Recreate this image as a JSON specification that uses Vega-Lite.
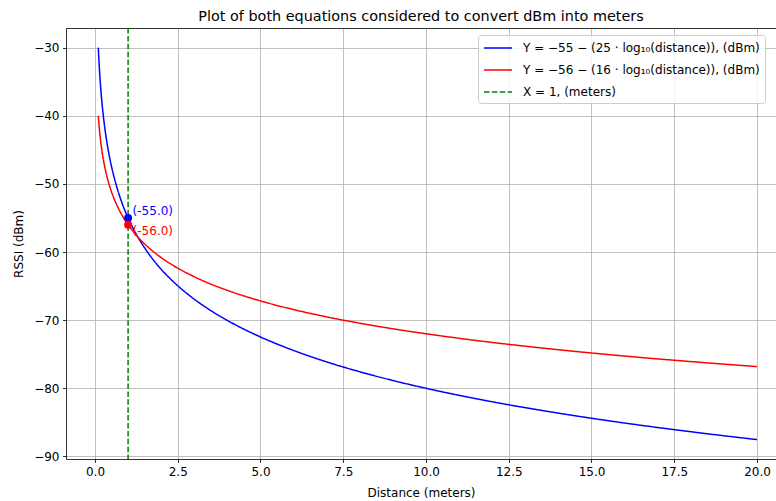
{
  "$schema": "https://vega.github.io/schema/vega-lite/v6.json",
  "width": 710,
  "height": 431,
  "autosize": "none",
  "padding": {"left": 66, "top": 28, "right": 0, "bottom": 42},
  "background": "white",
  "config": {
    "font": "DejaVu Sans",
    "view": {"stroke": null},
    "axis": {
      "labelFont": "DejaVu Sans", "labelFontSize": 12, "labelColor": "black",
      "titleFont": "DejaVu Sans", "titleFontSize": 12, "titleFontWeight": "normal", "titleColor": "black",
      "tickColor": "black", "tickSize": 3.5, "tickWidth": 0.8,
      "domainColor": "black", "domainWidth": 0.8,
      "gridColor": "#b0b0b0", "gridWidth": 0.8, "gridOpacity": 1,
      "labelPadding": 3.5
    },
    "legend": {
      "labelFont": "DejaVu Sans", "labelFontSize": 12, "labelColor": "black", "labelLimit": 400
    }
  },
  "title": {"text": "Plot of both equations considered to convert dBm into meters", "fontSize": 14.4, "font": "DejaVu Sans", "fontWeight": "normal", "color": "black", "offset": 3},
  "datasets": {
    "curves": [
      {"d": 0.1, "s": "eq1", "rssi": -30}, {"d": 0.11, "s": "eq1", "rssi": -31.03}, {"d": 0.12, "s": "eq1", "rssi": -31.98}, {"d": 0.13, "s": "eq1", "rssi": -32.85}, {"d": 0.14, "s": "eq1", "rssi": -33.65}, {"d": 0.15, "s": "eq1", "rssi": -34.40}, {"d": 0.17, "s": "eq1", "rssi": -35.76}, {"d": 0.2, "s": "eq1", "rssi": -37.53}, {"d": 0.25, "s": "eq1", "rssi": -39.95}, {"d": 0.3, "s": "eq1", "rssi": -41.93}, {"d": 0.35, "s": "eq1", "rssi": -43.60}, {"d": 0.4, "s": "eq1", "rssi": -45.05}, {"d": 0.45, "s": "eq1", "rssi": -46.33}, {"d": 0.5, "s": "eq1", "rssi": -47.47}, {"d": 0.6, "s": "eq1", "rssi": -49.45}, {"d": 0.7, "s": "eq1", "rssi": -51.13}, {"d": 0.8, "s": "eq1", "rssi": -52.58}, {"d": 0.9, "s": "eq1", "rssi": -53.86}, {"d": 1, "s": "eq1", "rssi": -55}, {"d": 1.1, "s": "eq1", "rssi": -56.03}, {"d": 1.25, "s": "eq1", "rssi": -57.42}, {"d": 1.5, "s": "eq1", "rssi": -59.40}, {"d": 1.75, "s": "eq1", "rssi": -61.08}, {"d": 2, "s": "eq1", "rssi": -62.53}, {"d": 2.5, "s": "eq1", "rssi": -64.95}, {"d": 3, "s": "eq1", "rssi": -66.93}, {"d": 3.5, "s": "eq1", "rssi": -68.60}, {"d": 4, "s": "eq1", "rssi": -70.05}, {"d": 5, "s": "eq1", "rssi": -72.47}, {"d": 6, "s": "eq1", "rssi": -74.45}, {"d": 7, "s": "eq1", "rssi": -76.13}, {"d": 8, "s": "eq1", "rssi": -77.58}, {"d": 9, "s": "eq1", "rssi": -78.86}, {"d": 10, "s": "eq1", "rssi": -80}, {"d": 12, "s": "eq1", "rssi": -81.98}, {"d": 14, "s": "eq1", "rssi": -83.65}, {"d": 16, "s": "eq1", "rssi": -85.10}, {"d": 18, "s": "eq1", "rssi": -86.38}, {"d": 20, "s": "eq1", "rssi": -87.53},
      {"d": 0.1, "s": "eq2", "rssi": -40}, {"d": 0.11, "s": "eq2", "rssi": -40.66}, {"d": 0.12, "s": "eq2", "rssi": -41.27}, {"d": 0.13, "s": "eq2", "rssi": -41.82}, {"d": 0.14, "s": "eq2", "rssi": -42.34}, {"d": 0.15, "s": "eq2", "rssi": -42.82}, {"d": 0.17, "s": "eq2", "rssi": -43.69}, {"d": 0.2, "s": "eq2", "rssi": -44.82}, {"d": 0.25, "s": "eq2", "rssi": -46.37}, {"d": 0.3, "s": "eq2", "rssi": -47.63}, {"d": 0.35, "s": "eq2", "rssi": -48.71}, {"d": 0.4, "s": "eq2", "rssi": -49.63}, {"d": 0.45, "s": "eq2", "rssi": -50.45}, {"d": 0.5, "s": "eq2", "rssi": -51.18}, {"d": 0.6, "s": "eq2", "rssi": -52.45}, {"d": 0.7, "s": "eq2", "rssi": -53.52}, {"d": 0.8, "s": "eq2", "rssi": -54.45}, {"d": 0.9, "s": "eq2", "rssi": -55.27}, {"d": 1, "s": "eq2", "rssi": -56}, {"d": 1.1, "s": "eq2", "rssi": -56.66}, {"d": 1.25, "s": "eq2", "rssi": -57.55}, {"d": 1.5, "s": "eq2", "rssi": -58.82}, {"d": 1.75, "s": "eq2", "rssi": -59.89}, {"d": 2, "s": "eq2", "rssi": -60.82}, {"d": 2.5, "s": "eq2", "rssi": -62.37}, {"d": 3, "s": "eq2", "rssi": -63.63}, {"d": 3.5, "s": "eq2", "rssi": -64.71}, {"d": 4, "s": "eq2", "rssi": -65.63}, {"d": 5, "s": "eq2", "rssi": -67.18}, {"d": 6, "s": "eq2", "rssi": -68.45}, {"d": 7, "s": "eq2", "rssi": -69.52}, {"d": 8, "s": "eq2", "rssi": -70.45}, {"d": 9, "s": "eq2", "rssi": -71.27}, {"d": 10, "s": "eq2", "rssi": -72}, {"d": 12, "s": "eq2", "rssi": -73.27}, {"d": 14, "s": "eq2", "rssi": -74.34}, {"d": 16, "s": "eq2", "rssi": -75.27}, {"d": 18, "s": "eq2", "rssi": -76.08}, {"d": 20, "s": "eq2", "rssi": -76.82}
    ],
    "vline": [{"d": 1, "s": "x1"}],
    "pts": [{"d": 1, "rssi": -55, "label": "(-55.0)", "s": "eq1"}, {"d": 1, "rssi": -56, "label": "(-56.0)", "s": "eq2"}]
  },
  "resolve": {"axis": {"x": "independent"}},
  "layer": [
    {
      "data": {"name": "curves"},
      "mark": {"type": "line", "strokeWidth": 1.5, "interpolate": "monotone"},
      "encoding": {
        "x": {"field": "d", "type": "quantitative", "scale": {"domain": [-0.876, 20.574], "nice": false, "zero": false},
              "axis": {"title": "Distance (meters)", "values": [0, 2.5, 5, 7.5, 10, 12.5, 15, 17.5, 20], "format": ".1f", "grid": true, "domain": true, "titleBaseline": "middle", "titleY": 33}},
        "y": {"field": "rssi", "type": "quantitative", "scale": {"domain": [-90.38, -27.12], "nice": false, "zero": false},
              "axis": {"title": "RSSI (dBm)", "values": [-90, -80, -70, -60, -50, -40, -30], "format": "d", "grid": true, "domain": true, "titleBaseline": "middle", "titleX": -48}},
        "color": {"field": "s", "type": "nominal",
                  "scale": {"domain": ["eq1", "eq2", "x1"], "range": ["#0000ff", "#ff0000", "#008000"]},
                  "legend": {"title": null, "orient": "none", "legendX": 412, "legendY": 7, "symbolType": "M-1,0H3", "symbolSize": 196, "symbolStrokeWidth": 1.5, "symbolOffset": 0,
                             "fillColor": "rgba(255,255,255,0.8)", "strokeColor": "#cccccc", "cornerRadius": 3, "padding": 5, "rowPadding": 8, "labelOffset": 24,
                             "labelExpr": "datum.value == 'eq1' ? 'Y = −55 − (25 · log₁₀(distance)), (dBm)' : datum.value == 'eq2' ? 'Y = −56 − (16 · log₁₀(distance)), (dBm)' : 'X = 1, (meters)'"}},
        "strokeDash": {"field": "s", "type": "nominal",
                  "scale": {"domain": ["eq1", "eq2", "x1"], "range": [[1, 0], [1, 0], [5.5, 2.4]]},
                  "legend": {"title": null, "orient": "none", "legendX": 412, "legendY": 7, "symbolType": "M-1,0H3", "symbolSize": 196, "symbolStrokeWidth": 1.5, "symbolOffset": 0,
                             "fillColor": "rgba(255,255,255,0.8)", "strokeColor": "#cccccc", "cornerRadius": 3, "padding": 5, "rowPadding": 8, "labelOffset": 24,
                             "labelExpr": "datum.value == 'eq1' ? 'Y = −55 − (25 · log₁₀(distance)), (dBm)' : datum.value == 'eq2' ? 'Y = −56 − (16 · log₁₀(distance)), (dBm)' : 'X = 1, (meters)'"}}
      }
    },
    {
      "data": {"name": "vline"},
      "mark": {"type": "rule", "strokeWidth": 1.5},
      "encoding": {
        "x": {"field": "d", "type": "quantitative", "axis": {"orient": "top", "labels": false, "ticks": false, "grid": false, "domain": true, "title": null}},
        "color": {"field": "s", "type": "nominal"},
        "strokeDash": {"field": "s", "type": "nominal"}
      }
    },
    {
      "data": {"name": "pts"},
      "transform": [{"filter": "datum.s == 'eq1'"}],
      "layer": [
        {"mark": {"type": "point", "filled": true, "size": 64, "color": "#0000ff", "opacity": 1}},
        {"mark": {"type": "text", "align": "left", "baseline": "middle", "dx": 4.5, "dy": -6.5, "fontSize": 12, "color": "#0000ff"}, "encoding": {"text": {"field": "label"}}}
      ],
      "encoding": {
        "x": {"field": "d", "type": "quantitative", "axis": null},
        "y": {"field": "rssi", "type": "quantitative"}
      }
    },
    {
      "data": {"name": "pts"},
      "transform": [{"filter": "datum.s == 'eq2'"}],
      "layer": [
        {"mark": {"type": "point", "filled": true, "size": 64, "color": "#ff0000", "opacity": 1}},
        {"mark": {"type": "text", "align": "left", "baseline": "middle", "dx": 4.5, "dy": 6.5, "fontSize": 12, "color": "#ff0000"}, "encoding": {"text": {"field": "label"}}}
      ],
      "encoding": {
        "x": {"field": "d", "type": "quantitative", "axis": null},
        "y": {"field": "rssi", "type": "quantitative"}
      }
    }
  ]
}
